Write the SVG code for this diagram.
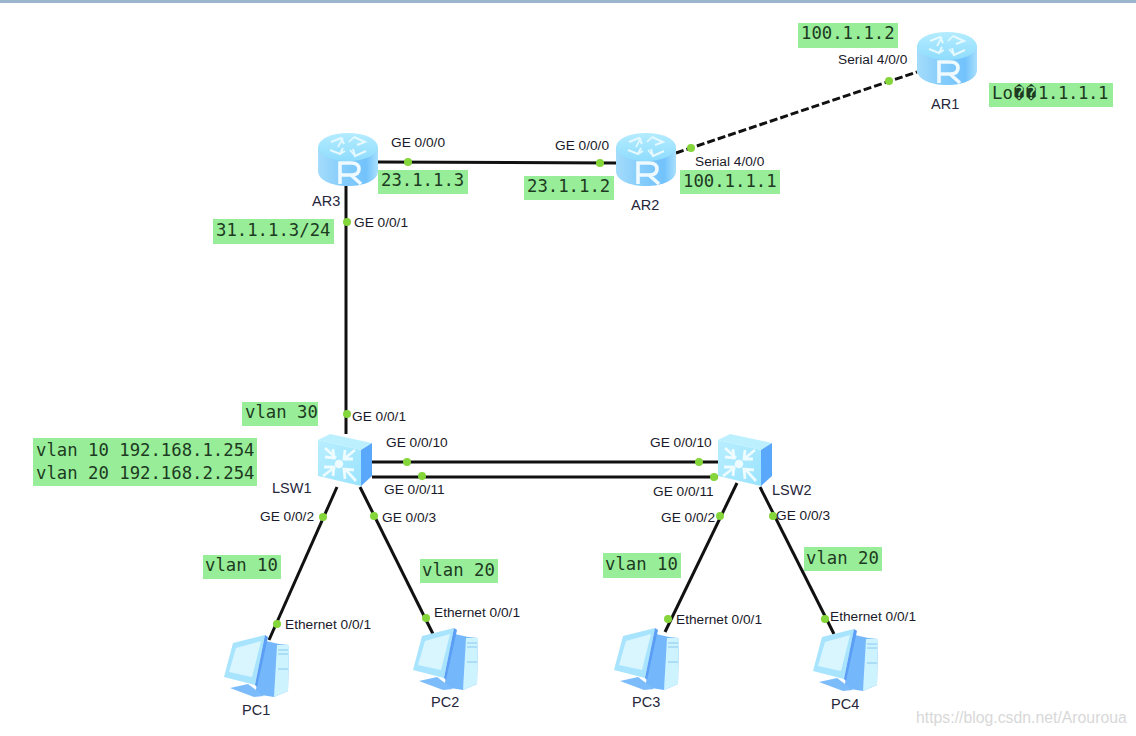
<svg xmlns="http://www.w3.org/2000/svg" width="1136" height="736" viewBox="0 0 1136 736">
<style>
.t{font-family:"Liberation Sans",Arial,sans-serif;font-size:13.7px;fill:#1a1a2a}
.n{font-family:"Liberation Sans",Arial,sans-serif;font-size:14.5px;fill:#26263a}
.m{font-family:"DejaVu Sans Mono",monospace;font-size:17.3px;fill:#1d3a22}
.b{fill:#98ee98}
.c{fill:none;stroke:#111;stroke-width:3}
.d{fill:#84d63a}
</style>
<defs>
<linearGradient id="rs" x1="0" x2="1" y1="0" y2="0"><stop offset="0" stop-color="#a4dcfb"/><stop offset=".4" stop-color="#86cdfb"/><stop offset=".8" stop-color="#72c2fc"/><stop offset="1" stop-color="#a8e0fc"/></linearGradient>
<linearGradient id="rt" x1="0" x2="0" y1="0" y2="1"><stop offset="0" stop-color="#b4ecff"/><stop offset="1" stop-color="#8fdcfd"/></linearGradient>
<linearGradient id="sw" x1="0" x2="1" y1="0" y2="1"><stop offset="0" stop-color="#b8eeff"/><stop offset="1" stop-color="#9ae3fd"/></linearGradient>
<g id="router">
<path d="M0 14V38C0 47 13 53 30 53S60 47 60 38V14Z" fill="url(#rs)"/>
<ellipse cx="30" cy="14" rx="30" ry="14" fill="url(#rt)"/>
<path d="M13 9L23 5L26 11M36 4L47 9L39 12M12 17L22 21L25 15M48 18L37 23L35 16" fill="none" stroke="#e6f9ff" stroke-width="2"/>
<path d="M25 5L20 14M36 4L31 9M22 21L27 18M37 23L32 17" fill="none" stroke="#e6f9ff" stroke-width="1.6"/>
<path d="M22 51V30H33Q41 30 41 36T33 42H22M33 42L43 51" fill="none" stroke="#eefaff" stroke-width="3.6"/>
</g>
<g id="switch">
<path d="M0 6L12 0L54 9L43 16Z" fill="#bdf0ff"/>
<path d="M43 16L54 9V42L43 52Z" fill="#5aa8fb"/>
<path d="M0 6L43 16V52L0 42Z" fill="url(#sw)"/>
<g fill="none" stroke="#eefbff" stroke-width="2.8">
<path d="M7 14L18 24M7 23L16 24L15 15M37 16L26 25M27 16L26 25L35 25M5 42L17 33M6 33L16 33L15 42M38 47L27 35M27 45L26 35L36 36"/>
</g>
<circle cx="21" cy="30" r="4.2" fill="#eefbff"/>
</g>
<g id="pc">
<path d="M42 6L55 9L65 10L64 56L50 62L31 59Z" fill="#74b8fb"/>
<path d="M53 10L65 10L64 56L50 62Z" fill="#cdf3ff"/>
<path d="M6 53L24 49L40 61L30 62Z" fill="#7dbcfb"/>
<path d="M9 8L41 0L31 50L0 42Z" fill="#a8e4fd"/>
<path d="M12 13L37 6L28 42L5 37Z" fill="#d9f6ff"/>
<path d="M41 0L44 2L33 52L31 50Z" fill="#5a9ef5"/>
<path d="M54 15H64M54 19H64M54 34H64" stroke="#8cc8ee" stroke-width="1"/>
</g>
</defs>
<rect width="1136" height="736" fill="#fff"/>
<rect width="1136" height="3" fill="#9bb5cc"/>
<g id="connectors">
<path class="c" d="M378 162L616 163"/>
<path class="c" d="M676 153L917 72" stroke-dasharray="8 3"/>
<path class="c" d="M346 185V434"/>
<path class="c" d="M372 462H718"/>
<path class="c" d="M372 477H718"/>
<path class="c" d="M337 487L269 640"/>
<path class="c" d="M360 487L433 634"/>
<path class="c" d="M737 483L665 632"/>
<path class="c" d="M760 487L834 634"/>
<g>
<circle class="d" cx="408" cy="162" r="4"/><circle class="d" cx="600" cy="163" r="4"/>
<circle class="d" cx="889" cy="81" r="4"/><circle class="d" cx="691" cy="148" r="4"/>
<circle class="d" cx="347" cy="222" r="4"/><circle class="d" cx="347" cy="414" r="4"/>
<circle class="d" cx="407" cy="462" r="4"/><circle class="d" cx="422" cy="476" r="4"/>
<circle class="d" cx="699" cy="462" r="4"/><circle class="d" cx="714" cy="477" r="4"/>
<circle class="d" cx="323" cy="517" r="4"/><circle class="d" cx="374" cy="516" r="4"/>
<circle class="d" cx="720" cy="516" r="4"/><circle class="d" cx="773" cy="516" r="4"/>
<circle class="d" cx="277" cy="624" r="4"/><circle class="d" cx="426" cy="618" r="4"/>
<circle class="d" cx="668" cy="619" r="4"/><circle class="d" cx="825" cy="619" r="4"/>
</g>
</g>
<g id="AR1"><use href="#router" x="917" y="32"/><text class="n" x="931" y="109">AR1</text></g>
<g id="AR2"><use href="#router" x="616" y="133"/><text class="n" x="631" y="210">AR2</text></g>
<g id="AR3"><use href="#router" x="318" y="133"/><text class="n" x="312" y="206">AR3</text></g>
<g id="LSW1"><use href="#switch" x="318" y="434"/><text class="n" x="272" y="493">LSW1</text></g>
<g id="LSW2"><use href="#switch" x="718" y="434"/><text class="n" x="772" y="495">LSW2</text></g>
<g id="PC1"><use href="#pc" x="224" y="635"/><text class="n" x="242" y="715">PC1</text></g>
<g id="PC2"><use href="#pc" x="413" y="628"/><text class="n" x="431" y="707">PC2</text></g>
<g id="PC3"><use href="#pc" x="614" y="628"/><text class="n" x="632" y="707">PC3</text></g>
<g id="PC4"><use href="#pc" x="813" y="629"/><text class="n" x="831" y="709">PC4</text></g>
<g id="port-labels">
<text class="t" x="838" y="64">Serial 4/0/0</text>
<text class="t" x="695" y="166">Serial 4/0/0</text>
<text class="t" x="391" y="147">GE 0/0/0</text>
<text class="t" x="555" y="150">GE 0/0/0</text>
<text class="t" x="354" y="227">GE 0/0/1</text>
<text class="t" x="352" y="421">GE 0/0/1</text>
<text class="t" x="386" y="447">GE 0/0/10</text>
<text class="t" x="384" y="494">GE 0/0/11</text>
<text class="t" x="650" y="447">GE 0/0/10</text>
<text class="t" x="653" y="496">GE 0/0/11</text>
<text class="t" x="260" y="521">GE 0/0/2</text>
<text class="t" x="382" y="522">GE 0/0/3</text>
<text class="t" x="661" y="522">GE 0/0/2</text>
<text class="t" x="776" y="520">GE 0/0/3</text>
<text class="t" x="285" y="629">Ethernet 0/0/1</text>
<text class="t" x="434" y="617">Ethernet 0/0/1</text>
<text class="t" x="676" y="624">Ethernet 0/0/1</text>
<text class="t" x="830" y="621">Ethernet 0/0/1</text>
</g>
<g id="address-labels">
<rect class="b" x="798" y="23" width="100" height="25"/><text class="m" x="801" y="39">100.1.1.2</text>
<rect class="b" x="989" y="83" width="124" height="24"/><text class="m" x="992 1002.5 1014 1026 1038 1048 1058 1068 1078 1088 1098" y="99">Lo��1.1.1.1</text>
<rect class="b" x="378" y="170" width="90" height="24"/><text class="m" x="381" y="186">23.1.1.3</text>
<rect class="b" x="524" y="176" width="90" height="24"/><text class="m" x="527" y="192">23.1.1.2</text>
<rect class="b" x="680" y="170" width="100" height="24"/><text class="m" x="683" y="187">100.1.1.1</text>
<rect class="b" x="213" y="219" width="121" height="25"/><text class="m" x="216" y="236">31.1.1.3/24</text>
<rect class="b" x="242" y="402" width="76" height="24"/><text class="m" x="245" y="418">vlan 30</text>
<rect class="b" x="33" y="438" width="224" height="48"/><text class="m" x="36" y="456">vlan 10 192.168.1.254</text><text class="m" x="36" y="479">vlan 20 192.168.2.254</text>
<rect class="b" x="203" y="555" width="78" height="24"/><text class="m" x="205" y="571">vlan 10</text>
<rect class="b" x="420" y="559" width="78" height="24"/><text class="m" x="422" y="576">vlan 20</text>
<rect class="b" x="603" y="553" width="78" height="25"/><text class="m" x="605" y="570">vlan 10</text>
<rect class="b" x="804" y="547" width="78" height="24"/><text class="m" x="806" y="564">vlan 20</text>
</g>
<text x="916" y="723" font-family="Liberation Sans,Arial,sans-serif" font-size="15.8" fill="#d8d8d8">https://blog.csdn.net/Arouroua</text>
</svg>
